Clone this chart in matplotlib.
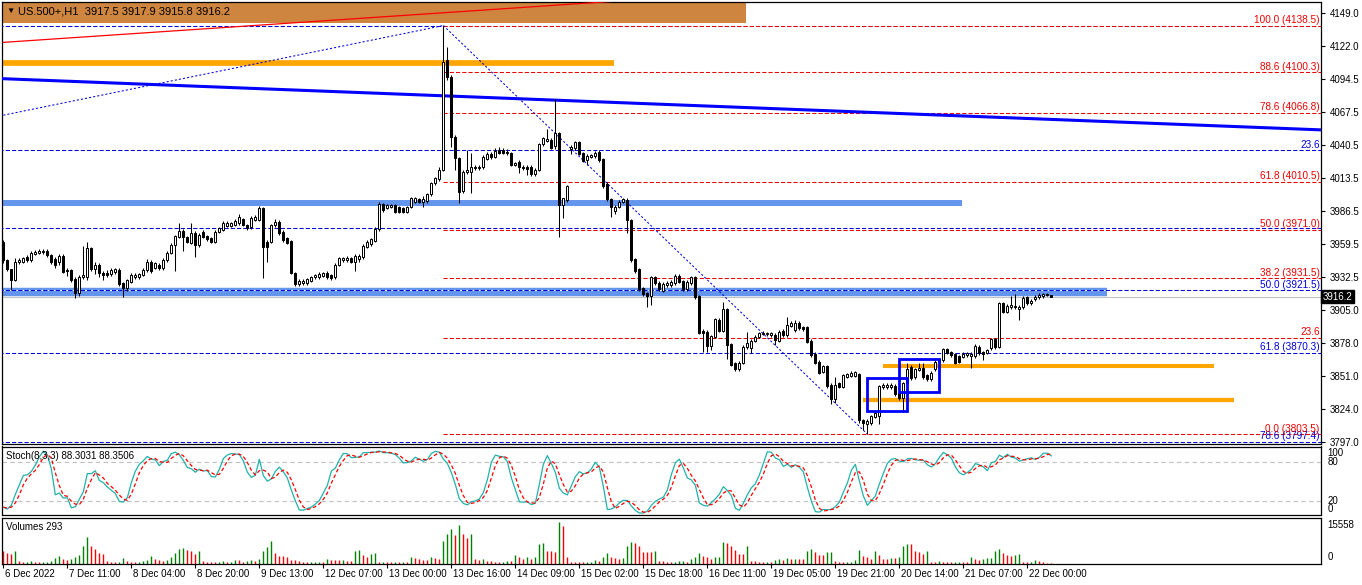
import numpy as np
import pandas as pd
import matplotlib
matplotlib.use("Agg")
import matplotlib.pyplot as plt
import matplotlib.transforms as mtransforms
from matplotlib.patches import Rectangle

plt.rcParams['font.family'] = ['Liberation Sans', 'DejaVu Sans']

# ---- H1 bars ----
opens = [
    3961, 3946, 3938.5, 3930, 3944.5, 3945, 3949, 3946.5, 3951, 3952,
    3952.5, 3953.5, 3950, 3947, 3945, 3949.5, 3938, 3938, 3931, 3919,
    3932.5, 3932.5, 3955.8, 3938.5, 3942, 3935.3, 3936, 3934.5, 3936.6, 3938,
    3927, 3923, 3928.5, 3932.5, 3932.5, 3934, 3938, 3944.8, 3940, 3942,
    3939.4, 3946.2, 3952.2, 3958.5, 3965.3, 3970.3, 3964.8, 3960.4, 3968.6, 3958.5,
    3969.4, 3965.9, 3964, 3961.2, 3969.4, 3970.8, 3974.1, 3974.5, 3974.9, 3976.3,
    3979.5, 3974.9, 3973.5, 3979, 3979, 3988.6, 3961.2, 3961.2, 3974.9, 3977.6,
    3969.4, 3964, 3961.8, 3935.8, 3926.5, 3927.1, 3927.1, 3929.3, 3932, 3932.5,
    3933, 3935.3, 3933.9, 3932.5, 3942.1, 3946.2, 3946.2, 3947.6, 3944.8, 3946.8,
    3948.4, 3957.1, 3959.3, 3962.1, 3971.4, 3992.1, 3989.3, 3989.9, 3991.3, 3989.4,
    3988.6, 3985.8, 3989.9, 3994, 3996, 3994, 3994.5, 4000.3, 4009.1, 4012.4,
    4020.0, 4110.2, 4096.0, 4047.3, 4029.6, 4003.1, 4018.6, 4018.6, 4022.7, 4021.4,
    4022.2, 4028.8, 4033.1, 4030.4, 4036.4, 4036.4, 4035.0, 4034.2, 4024.1, 4026.8,
    4022.7, 4022.7, 4022.7, 4016.7, 4020.0, 4041.3, 4044.0, 4045.0, 4040.0, 4050.4,
    3991.3, 3995.4, 4037.0, 4037.8, 4043.2, 4033.7, 4028.2, 4031.0, 4031.5, 4035.0,
    4028.8, 4008.3, 3996.0, 3986.6, 3989.9, 3994.0, 3995.4, 3979.0, 3946.8, 3938.6,
    3923.0, 3918.9, 3916.7, 3932.0, 3927.6, 3921.1, 3925.7, 3925.7, 3927.1, 3933.1,
    3929.0, 3922.2, 3927.1, 3932.0, 3916.7, 3888.3, 3887.4, 3875.7, 3883.3, 3897.0,
    3888.3, 3905.8, 3877.3, 3861.5, 3856.6, 3862.0, 3874.6, 3873.8, 3880.1, 3883.3,
    3885.5, 3885.3, 3884.7, 3884.7, 3880.1, 3888.0, 3884.7, 3892.1, 3888.8, 3894.8,
    3891.0, 3891.0, 3880.1, 3869.1, 3862.8, 3854.6, 3859.3, 3843.7, 3831.9, 3845.1,
    3842.3, 3850.5, 3851.1, 3851.1, 3852.7, 3815.0, 3811.7, 3812.3, 3817.7, 3818.3,
    3841.8, 3841.8, 3841.8, 3842.9, 3837.4, 3832.8, 3845.1, 3858.7, 3850.0, 3856.0,
    3857.4, 3851.9, 3848.4, 3856.6, 3862.8, 3864.2, 3873.0, 3871.0, 3869.1, 3867.5,
    3866.9, 3868.3, 3867.5, 3867.5, 3875.1, 3871.0, 3870.2, 3873.8, 3881.2, 3875.1,
    3910.7, 3903.8, 3907.4, 3908.5, 3905.8, 3907.4, 3915.6, 3910.7, 3913.9, 3915.6,
    3916.7, 3918.3, 3917.5,
]
highs = [
    3963, 3947, 3939, 3947.5, 3948, 3949, 3950, 3954, 3954.5, 3955,
    3955, 3955, 3951, 3949, 3951, 3951, 3940, 3939, 3932, 3934,
    3958, 3961, 3957, 3945, 3944, 3937, 3938, 3939.5, 3940, 3939.5,
    3928, 3931, 3935.5, 3936, 3936, 3939.5, 3947, 3946, 3945, 3943.5,
    3948, 3954, 3960, 3967, 3977, 3971.5, 3966, 3976.3, 3970, 3968,
    3971, 3967, 3965, 3971, 3973.5, 3978, 3978, 3977.5, 3980, 3983.6,
    3981, 3976, 3982, 3983, 3990.5, 3990, 3963, 3976, 3979.5, 3979,
    3970.5, 3965, 3963, 3936.5, 3930.5, 3930.5, 3931.5, 3933.5, 3935, 3936.5,
    3936.5, 3937, 3935, 3943.5, 3949, 3949, 3949.5, 3949, 3951, 3951,
    3959, 3963, 3964.5, 3973, 3993.5, 3993, 3992.5, 3992.5, 3992.5, 3990.5,
    3989.5, 3990.5, 3998, 3998, 3997.5, 3999, 4001, 4010, 4014.5, 4022.7,
    4138.5, 4121.1, 4098, 4049, 4031, 4020, 4036.4, 4034.2, 4024, 4024,
    4032, 4034.5, 4034.5, 4038, 4039, 4038, 4037, 4035, 4027, 4028,
    4024, 4024, 4024, 4021.5, 4042.5, 4047.5, 4053.4, 4046, 4078.0, 4051,
    3997.5, 4008, 4040.5, 4044, 4044, 4034.5, 4033, 4033, 4035.5, 4036.5,
    4030, 4010, 3997, 3991, 3995.5, 3997, 3997, 3980, 3948, 3939.5,
    3924, 3920, 3933, 3933.5, 3929, 3928, 3929, 3930, 3934.5, 3934.5,
    3930, 3930, 3933.5, 3933.5, 3917.5, 3889.5, 3889, 3885, 3899, 3898.5,
    3912, 3907, 3878.5, 3862.5, 3863.5, 3876.5, 3887.4, 3881.5, 3884.5, 3887.5,
    3888, 3887.5, 3887.5, 3886, 3889, 3889.5, 3899.7, 3896, 3897, 3896.5,
    3892.5, 3892.5, 3881.5, 3870.5, 3864, 3860.5, 3860.5, 3845, 3850.5, 3846,
    3853, 3854, 3855, 3855.5, 3854, 3816, 3816, 3819.5, 3822.5, 3844,
    3845, 3845, 3845, 3844.5, 3838.5, 3846.5, 3861.5, 3860, 3858, 3861.5,
    3862, 3853, 3855, 3864, 3866, 3874.5, 3874.5, 3872, 3870, 3868.5,
    3870.5, 3871, 3870.5, 3877, 3876.5, 3872, 3873.5, 3882.5, 3882.5, 3912,
    3912, 3910, 3917, 3918, 3909.5, 3916.5, 3917, 3914.5, 3917.5, 3919,
    3919.5, 3919.5, 3917.9,
]
lows = [
    3944, 3937, 3922, 3929, 3943, 3944, 3945, 3945, 3950, 3951,
    3951.5, 3949, 3943, 3940, 3942, 3936, 3933, 3928, 3915, 3917,
    3931, 3930, 3937, 3935, 3932, 3930, 3932, 3933, 3935, 3925,
    3916, 3921, 3927, 3931, 3931, 3933, 3936.5, 3936, 3939, 3938,
    3938, 3945, 3951, 3937.5, 3964, 3954, 3960, 3959, 3949, 3957,
    3964, 3962, 3960, 3960, 3968, 3970, 3973, 3973, 3974, 3975,
    3974, 3971, 3972, 3978, 3978, 3931.2, 3944.8, 3960, 3973, 3967,
    3961, 3959, 3935, 3925, 3925, 3925.5, 3926, 3928, 3931, 3931,
    3932, 3931, 3930, 3931, 3941, 3945, 3945, 3943.5, 3937.5, 3945,
    3947, 3956, 3958, 3961, 3970, 3986, 3988, 3989, 3985, 3985,
    3985, 3985, 3989, 3993, 3993, 3990, 3993, 3999, 4008, 4011,
    4019, 4094, 4039.1, 4020.0, 3993.2, 4001, 4017, 4001.4, 4020, 4020,
    4021, 4028, 4029, 4029.5, 4033, 4033, 4032, 4023, 4023, 4018,
    4020, 4016, 4015, 4015.5, 4019, 4040, 4043, 4037.5, 4037.5, 3965.3,
    3980.4, 3994, 4033, 4036.5, 4032, 4027, 4024, 4029.5, 4030, 4027,
    4005, 3994.5, 3981.7, 3984, 3988.5, 3993, 3968.6, 3945, 3936, 3921,
    3917, 3907.9, 3909.3, 3925.5, 3921, 3920, 3924.5, 3924.5, 3926, 3927.5,
    3921, 3921, 3926, 3914.5, 3885.5, 3871.0, 3871.0, 3872.4, 3882, 3887,
    3887, 3864.8, 3859, 3855, 3855.5, 3861, 3873, 3869.7, 3879, 3882,
    3884.5, 3884, 3883.5, 3876.5, 3879, 3883.5, 3883.5, 3891, 3887.5, 3889,
    3888, 3878, 3867, 3861, 3852.5, 3853.5, 3841.5, 3828.1, 3829, 3841,
    3841, 3849.5, 3850, 3850, 3812.3, 3806.8, 3803.5, 3811, 3816.5, 3811.7,
    3840.5, 3840.5, 3840.5, 3835, 3831.5, 3821.8, 3844, 3848, 3848.5, 3855,
    3849, 3847, 3847, 3855.5, 3861.5, 3863, 3869, 3867, 3861, 3861.5,
    3865.5, 3867, 3857.4, 3866, 3868.5, 3864, 3869, 3872.5, 3873.5, 3873.8,
    3902.5, 3902.5, 3906, 3906, 3897.0, 3906, 3909.5, 3909.5, 3912.5, 3914.5,
    3915.5, 3916.5, 3915.8,
]
closes = [
    3946, 3938.5, 3930, 3945, 3946, 3947.5, 3946.5, 3952, 3953, 3954,
    3954, 3950.5, 3945, 3942, 3949.5, 3936.5, 3937, 3930, 3919, 3932.5,
    3934, 3955.8, 3938.5, 3942, 3935.3, 3934, 3934, 3938, 3938.5, 3926.5,
    3923, 3929.8, 3934, 3934, 3934.7, 3938, 3944.8, 3937.5, 3943.5, 3940,
    3946.2, 3952.2, 3958.5, 3965.9, 3970.3, 3964.8, 3961.2, 3968.6, 3958.5, 3966.7,
    3965.3, 3963.2, 3961.2, 3969.4, 3972.2, 3976.3, 3976.3, 3976.3, 3978.5, 3981.2,
    3974.9, 3972.2, 3980.4, 3981.2, 3988.6, 3957.1, 3957.1, 3974.9, 3977.6, 3968.6,
    3962.6, 3960.4, 3935.8, 3926.5, 3929.3, 3929.3, 3930.4, 3932, 3933.9, 3934.7,
    3935.3, 3932, 3931.2, 3942.1, 3947.6, 3947.6, 3947.6, 3944.8, 3949.5, 3949.5,
    3957.7, 3961.2, 3963.2, 3971.4, 3992.1, 3987.2, 3991.3, 3991.3, 3985.8, 3985.8,
    3985.8, 3989.4, 3996.8, 3996.8, 3994, 3996.5, 4000.3, 4009.1, 4013.2, 4020.0,
    4108.8, 4096.0, 4047.3, 4029.6, 4002.2, 4018.6, 4020.0, 4022.7, 4021.4, 4022.7,
    4030.4, 4033.1, 4030.4, 4035.9, 4034.2, 4034.2, 4033.7, 4024.1, 4026.0, 4022.2,
    4021.4, 4020.6, 4016.7, 4020.0, 4041.3, 4046.0, 4045.6, 4038.0, 4050.4, 3991.3,
    3996.8, 4006.9, 4039.0, 4043.2, 4032.8, 4027.7, 4031.5, 4032.3, 4033.7, 4028.2,
    4006.9, 3996.0, 3989.4, 3989.9, 3994.0, 3995.9, 3979.0, 3946.2, 3937.5, 3922.2,
    3918.3, 3916.7, 3932.0, 3927.1, 3922.2, 3926.5, 3927.6, 3928.5, 3933.1, 3928.5,
    3922.2, 3928.5, 3932.0, 3915.6, 3886.6, 3886.6, 3875.7, 3883.9, 3897.6, 3888.3,
    3905.8, 3876.5, 3860.1, 3856.6, 3862.0, 3875.1, 3878.4, 3880.1, 3883.3, 3886.1,
    3886.6, 3886.1, 3886.1, 3880.6, 3887.4, 3884.7, 3892.9, 3894.3, 3894.8, 3890.2,
    3889.4, 3879.2, 3868.3, 3862.0, 3853.8, 3859.3, 3842.9, 3831.9, 3843.7, 3842.3,
    3851.9, 3852.7, 3853.8, 3854.4, 3815.0, 3812.3, 3814.5, 3818.3, 3821.0, 3842.9,
    3843.7, 3843.7, 3843.7, 3836.3, 3832.8, 3845.1, 3856.6, 3849.2, 3856.6, 3857.4,
    3850.0, 3848.4, 3853.8, 3862.8, 3864.8, 3873.0, 3870.2, 3868.3, 3862.0, 3862.8,
    3869.1, 3869.7, 3869.1, 3875.7, 3869.7, 3869.1, 3872.4, 3881.2, 3874.6, 3910.7,
    3903.8, 3908.5, 3909.3, 3907.4, 3907.9, 3914.8, 3910.7, 3912.9, 3916.1, 3917.5,
    3918.3, 3917.5, 3916.2,
]
volumes = [
    4600, 4200, 3800, 4900, 1100, 800, 900, 1200, 700, 600,
    800, 900, 1100, 2300, 3000, 2000, 1500, 1700, 2400, 3200,
    6600, 9900, 6800, 5400, 4200, 3800, 1000, 800, 700, 900,
    2300, 1100, 800, 700, 900, 1100, 1500, 2800, 1800, 1400,
    1200, 1600, 2500, 4200, 5600, 5900, 5000, 4600, 3800, 4900,
    1100, 900, 800, 700, 800, 1000, 600, 900, 1500, 1400,
    800, 1200, 1500, 1100, 1700, 4900, 6300, 8500, 4100, 3000,
    3000, 2400, 1300, 1300, 1200, 700, 600, 700, 800, 900,
    700, 1900, 1600, 1500, 1400, 1600, 1200, 1100, 4900, 5300,
    3400, 2600, 3800, 4100, 700, 900, 700, 600, 900, 700,
    800, 600, 2500, 2100, 1800, 1600, 1400, 2700, 2200, 2000,
    8300, 11000, 12800, 10600, 14400, 11000, 9700, 11000, 1800, 1500,
    1700, 1200, 1000, 800, 700, 900, 1200, 1100, 3400, 2700,
    1900, 2700, 2000, 2500, 7200, 7600, 4900, 4600, 4500, 15558,
    14000, 2700, 900, 800, 700, 600, 700, 900, 1300, 1200,
    2700, 4100, 2600, 2200, 1700, 2100, 6800, 8200, 7900, 6600,
    4500, 4500, 4500, 4900, 1200, 1000, 800, 700, 900, 1000,
    1100, 800, 1900, 2500, 4200, 3000, 2700, 2000, 2400, 2700,
    8000, 7600, 6500, 5200, 3800, 3800, 6800, 1100, 1100, 800,
    600, 700, 600, 1400, 1700, 1300, 2300, 1800, 2000, 1900,
    1900, 4900, 5700, 4500, 3200, 3200, 4300, 4500, 1100, 700,
    600, 700, 800, 1500, 5300, 2800, 2500, 1800, 4600, 3400,
    2000, 2000, 2200, 2200, 2700, 6500, 7200, 7200, 4900, 4400,
    3800, 4600, 800, 700, 1000, 800, 700, 600, 700, 900,
    700, 600, 2500, 1900, 1500, 1700, 2200, 2300, 4600, 5700,
    4000, 3300, 3000, 3300, 3800, 800, 600, 900, 1400, 1200,
    700, 500, 293,
]

date_labels = ["6 Dec 2022", "7 Dec 11:00", "8 Dec 04:00", "8 Dec 20:00", "9 Dec 13:00",
               "12 Dec 07:00", "13 Dec 00:00", "13 Dec 16:00", "14 Dec 09:00", "15 Dec 02:00",
               "15 Dec 18:00", "16 Dec 11:00", "19 Dec 05:00", "19 Dec 21:00", "20 Dec 14:00",
               "21 Dec 07:00", "22 Dec 00:00"]
label_step = 16

price_ticks = [4149.0, 4122.0, 4094.5, 4067.5, 4040.5, 4013.5, 3986.5, 3959.5,
               3932.5, 3905.0, 3878.0, 3851.0, 3824.0, 3797.0]

symbol_line = "US.500+,H1  3917.5 3917.9 3915.8 3916.2"
stoch_title = "Stoch(8,3,3) 88.3031 88.3506"
volume_title = "Volumes 293"
volume_max_label = "15558"
last_price = 3916.2

# fibonacci objects
red_fib_top, red_fib_bottom = 4138.5, 3803.5
red_fib_bars = (110, 216)
red_fib_levels = [100.0, 88.6, 78.6, 61.8, 50.0, 38.2, 23.6, 0.0]
red_fib_texts = ["100.0 (4138.5)", "88.6 (4100.3)", "78.6 (4066.8)", "61.8 (4010.5)",
                 "50.0 (3971.0)", "38.2 (3931.5)", "23.6", "0.0 (3803.5)"]
blue_fib_top, blue_fib_bottom = 4138.5, 3704.5
blue_fib_levels = [0.0, 23.6, 38.2, 50.0, 61.8, 78.6]
blue_fib_texts = ["", "23.6", "", "50.0 (3921.5)", "61.8 (3870.3)", "78.6 (3797.4)"]
blue_fib_diag = ((0, 4065.0), (110, 4138.5))

# trend lines (bar, price) anchors
red_trend = ((0, 4124.7), (160, 4160.0))
blue_trend = ((0, 4094.9), (329, 4053.0))

# horizontal zones: (from bar, to bar, price)
orange_zones = [(-5, 152.7, 4107.9), (220, 302.7, 3859.4), (215, 307.7, 3831.8)]
blue_zones = [(-5, 239.7, 3993.0), (-5, 275.9, 3920.2)]
# boxes: (from bar, to bar, low, high)
boxes = [(215.85, 226.0, 3822.4, 3849.7), (223.85, 234.0, 3838.0, 3865.3)]
header_box = (-5, 185.7, 4140.8)

# ---------------------------------------------------------------
W, H = 1362, 585
fig = plt.figure(figsize=(W / 100, H / 100), dpi=100)
fig.patch.set_facecolor('white')


def frame(left, top, right, bottom):
    return [left / W, 1 - bottom / H, (right - left) / W, (bottom - top) / H]


ax = fig.add_axes(frame(2, 2, 1321, 443.5))
ax_st = fig.add_axes(frame(2, 446.5, 1321, 514.5), sharex=ax)
ax_v = fig.add_axes(frame(2, 517.5, 1321, 564), sharex=ax)

n = len(closes)
x = np.arange(n)
o, h, l, c = (np.array(a, dtype=float) for a in (opens, highs, lows, closes))
xmax = 329.4
ax.set_xlim(-0.33, xmax)
ax.set_ylim(3795.8, 4157.8)

# header rectangle
ax.add_patch(Rectangle((header_box[0], header_box[2]), header_box[1] - header_box[0], 60,
                       facecolor='#CD853F', edgecolor='none', zorder=1))

# zones
for (x0, x1, p), lw in zip(blue_zones, [4.3, 6.1]):
    ax.plot([x0, x1], [p, p], color='#6495ED', lw=lw, solid_capstyle='butt', zorder=2)
for (x0, x1, p), lw in zip(orange_zones, [4.1, 2.9, 3.1]):
    ax.plot([x0, x1], [p, p], color='#FFA500', lw=lw, solid_capstyle='butt', zorder=2)

ax.axhline(last_price, color='#C0C0C0', lw=0.8, zorder=2.5)

blend = mtransforms.blended_transform_factory(ax.transAxes, ax.transData)

# blue fibo
for lev, txt in zip(blue_fib_levels, blue_fib_texts):
    p = blue_fib_top - (blue_fib_top - blue_fib_bottom) * lev / 100
    ax.plot([-5, xmax + 5], [p, p], color='#0000DD', lw=0.75, ls=(0, (4, 2)),
            gapcolor='white', zorder=3)
    if txt:
        ax.text(0.999, p + 0.4, txt, transform=blend, ha='right', va='bottom',
                color='#0000DD', fontsize=7.2, zorder=9)
# red fibo
for lev, txt in zip(red_fib_levels, red_fib_texts):
    p = red_fib_bottom + (red_fib_top - red_fib_bottom) * lev / 100
    ax.plot([red_fib_bars[0], xmax + 5], [p, p], color='#EE0000', lw=0.75, ls=(0, (4, 2)),
            gapcolor='white', zorder=3.2)
    ax.text(0.999, p + 0.4, txt, transform=blend, ha='right', va='bottom',
            color='#EE0000', fontsize=7.2, zorder=9)

# fibo diagonals
ax.plot([blue_fib_diag[0][0], blue_fib_diag[1][0]], [blue_fib_diag[0][1], blue_fib_diag[1][1]],
        color='#0000DD', lw=0.75, ls=(0, (2, 2)), zorder=3.5)
ax.plot(list(red_fib_bars), [red_fib_top, red_fib_bottom],
        color='#0000DD', lw=0.75, ls=(0, (2, 2)), zorder=3.5)

# trend lines
ax.plot([red_trend[0][0], red_trend[1][0]], [red_trend[0][1], red_trend[1][1]],
        color='#FF0000', lw=0.9, zorder=4)
ax.plot([blue_trend[0][0], blue_trend[1][0]], [blue_trend[0][1], blue_trend[1][1]],
        color='#0000FF', lw=2.2, zorder=4)

# candles
up = c >= o
ax.vlines(x, l, h, color='black', lw=0.75, zorder=6)
ax.bar(x[up], c[up] - o[up], 0.55, bottom=o[up], color='white', edgecolor='black',
       lw=0.72, zorder=7)
ax.bar(x[~up], o[~up] - c[~up], 0.55, bottom=c[~up], color='black', edgecolor='black',
       lw=0.72, zorder=7)

# boxes
for x0, x1, p0, p1 in boxes:
    ax.add_patch(Rectangle((x0, p0), x1 - x0, p1 - p0, fill=False, edgecolor='#0000FF',
                           lw=2.0, zorder=8))

# price axis
ax.yaxis.tick_right()
ax.set_yticks(price_ticks)
ax.set_yticklabels([f"{p:.1f}" for p in price_ticks])
ax.tick_params(axis='y', direction='out', length=3, pad=3, labelsize=7, width=0.8)
ax.tick_params(axis='x', bottom=False, labelbottom=False)
ax.text(1.0015, last_price, f"{last_price:.1f}", transform=blend, ha='left', va='center',
        color='white', fontsize=7, clip_on=False, zorder=10,
        bbox=dict(boxstyle='square,pad=0.18', fc='black', ec='black'))

# header text
fig.text(6 / W, 1 - 11 / H, "\u25bc", fontsize=6, va='center', ha='left')
fig.text(18 / W, 1 - 11 / H, symbol_line, fontsize=8, va='center', ha='left')

# stochastic (8,3,3) from the bars
df = pd.DataFrame({'h': h, 'l': l, 'c': c})
lo8 = df['l'].rolling(8, min_periods=1).min()
hi8 = df['h'].rolling(8, min_periods=1).max()
k = 100 * (df['c'] - lo8).rolling(3, min_periods=1).sum() / \
    (hi8 - lo8).rolling(3, min_periods=1).sum()
d = k.rolling(3, min_periods=1).mean()
ax_st.set_ylim(-0.6, 103.2)
ax_st.axhline(80, color='#C0C0C0', lw=0.8, ls=(0, (4, 3)))
ax_st.axhline(20, color='#C0C0C0', lw=0.8, ls=(0, (4, 3)))
ax_st.plot(x, k, color='#20B2AA', lw=0.9, zorder=3)
ax_st.plot(x, d, color='#FF0000', lw=0.9, ls=(0, (3, 2)), zorder=4)
ax_st.text(0.003, 0.865, stoch_title, transform=ax_st.transAxes, fontsize=7, va='center')
st_blend = mtransforms.blended_transform_factory(ax_st.transAxes, ax_st.transData)
for txt, yv in [("100", 92.8), ("80", 80), ("20", 20), ("0", 8.4)]:
    ax_st.text(1.005, yv, txt, transform=st_blend, fontsize=7, va='center', ha='left',
               clip_on=False)
ax_st.set_yticks([])
ax_st.tick_params(axis='x', bottom=False, labelbottom=False)

# volumes
v = np.array(volumes, dtype=float)
rising = np.r_[False, v[1:] > v[:-1]]
ax_v.set_ylim(0, 17100)
ax_v.vlines(x[rising], 0, v[rising], color='#008000', lw=1.0)
ax_v.vlines(x[~rising], 0, v[~rising], color='#FF0000', lw=1.0)
ax_v.text(0.003, 0.80, volume_title, transform=ax_v.transAxes, fontsize=7, va='center')
ax_v.text(1.005, 0.83, volume_max_label, transform=ax_v.transAxes, fontsize=7, va='center')
ax_v.text(1.005, 0.14, "0", transform=ax_v.transAxes, fontsize=7, va='center')
ax_v.set_yticks([])
ax_v.set_xticks(np.arange(len(date_labels)) * label_step)
ax_v.tick_params(axis='x', direction='out', length=3, width=0.8, labelbottom=False)
lab_tr = mtransforms.blended_transform_factory(ax_v.transData, fig.transFigure)
for j, lab in enumerate(date_labels):
    ax_v.text(j * label_step + 0.4, 1 - 574 / H, lab, transform=lab_tr, fontsize=7,
              va='center', ha='left', clip_on=False)

for a in (ax, ax_st, ax_v):
    a.set_facecolor('white')
    for s in a.spines.values():
        s.set_color('black')
        s.set_linewidth(0.9)

fig.savefig("out.png", dpi=100, facecolor='white')
